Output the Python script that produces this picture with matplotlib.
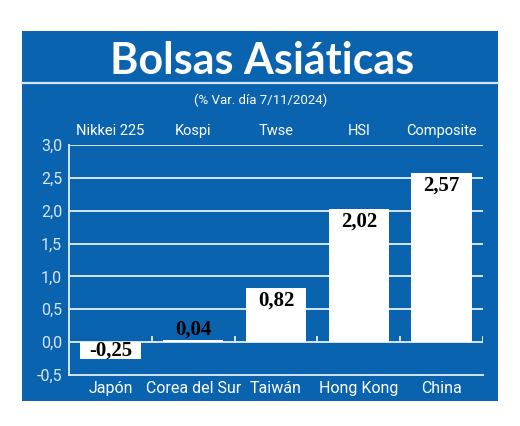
import matplotlib
matplotlib.use("Agg")
import matplotlib.pyplot as plt
from matplotlib.patches import Rectangle
from matplotlib.lines import Line2D
from matplotlib import font_manager

countries = ["Japón", "Corea del Sur", "Taiwán", "Hong Kong", "China"]
indices = ["Nikkei 225", "Kospi", "Twse", "HSI", "Composite"]
values = [-0.25, 0.04, 0.82, 2.02, 2.57]
value_labels = ["-0,25", "0,04", "0,82", "2,02", "2,57"]
yticks = [-0.5, 0.0, 0.5, 1.0, 1.5, 2.0, 2.5, 3.0]
ytick_labels = ["-0,5", "0,0", "0,5", "1,0", "1,5", "2,0", "2,5", "3,0"]
title = "Bolsas Asiáticas"
subtitle = "(% Var. día 7/11/2024)"

names = {f.name for f in font_manager.fontManager.ttflist}
NARROW = "Liberation Sans Narrow" if "Liberation Sans Narrow" in names else "Roboto"

BLUE = "#0a63ae"
GRID = "#d6e6f4"
W, H = 520, 426
fig = plt.figure(figsize=(W / 100, H / 100), dpi=100)
fig.patch.set_facecolor("white")

def fx(px):
    return px / W

def fy(py):
    return 1 - py / H

# blue panel
fig.patches.append(Rectangle((fx(22), fy(401)), fx(498) - fx(22), fy(31) - fy(401),
                             transform=fig.transFigure, facecolor=BLUE, edgecolor="none", zorder=-2))
# separator line under title
fig.lines.append(Line2D([fx(22), fx(498)], [fy(83), fy(83)], transform=fig.transFigure,
                        color=GRID, lw=1.6, zorder=-1))

fig.text(fx(262), fy(61), title, ha="center", va="center", color="white",
         fontsize=31, fontweight="bold", family=["Lato", "DejaVu Sans"])
fig.text(fx(261), fy(100), subtitle, ha="center", va="center", color="white",
         fontsize=9.5, family=[NARROW, "DejaVu Sans"])

ax = fig.add_axes([fx(69), fy(375), fx(483) - fx(69), fy(145) - fy(375)])
ax.set_facecolor("none")
ax.set_xlim(-0.5, len(values) - 0.5)
ax.set_ylim(-0.5, 3.0)

for y in yticks:
    if y > -0.5:
        ax.axhline(y, color=GRID, lw=1.4, zorder=1)
# boundary ticks on zero line
for k in range(len(values)):
    ax.plot([k + 0.5, k + 0.5], [0, 0.08], color=GRID, lw=1.4, zorder=1)

ax.bar(range(len(values)), values, width=0.73, color="white", zorder=2)

for i, (v, lab) in enumerate(zip(values, value_labels)):
    if v < 0:
        y, va = v / 2 - 0.01, "center"
    elif v < 0.3:
        y, va = v + 0.0, "bottom"
    else:
        y, va = v - 0.04, "top"
    ax.text(i, y, lab, ha="center", va=va, color="black", fontsize=15,
            fontweight="bold", family=["Liberation Serif", "DejaVu Serif"], zorder=3)

for i, name in enumerate(indices):
    ax.text(i, 3.1, name, ha="center", va="bottom", color="white", fontsize=10.5,
            family=[NARROW, "DejaVu Sans"])

for s in ["top", "right"]:
    ax.spines[s].set_visible(False)
for s in ["left", "bottom"]:
    ax.spines[s].set_color(GRID)
    ax.spines[s].set_linewidth(1.4)

ax.set_yticks(yticks)
ax.set_yticklabels(ytick_labels, color=GRID, fontsize=11.5,
                   family=[NARROW, "DejaVu Sans"])
ax.set_xticks(range(len(values)))
ax.set_xticklabels(countries, color="white", fontsize=11.5,
                   family=[NARROW, "DejaVu Sans"])
ax.tick_params(axis="both", length=0, pad=5)
ax.tick_params(axis="x", pad=4)

fig.savefig("out.png", dpi=100)
